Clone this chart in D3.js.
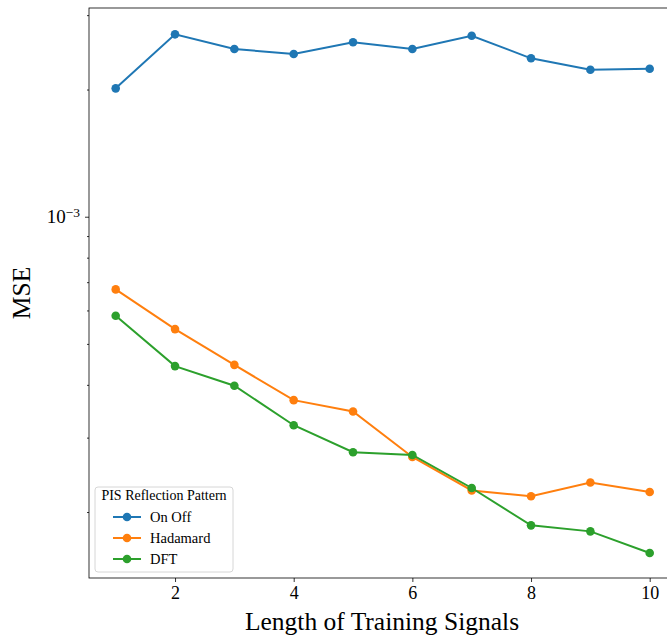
<!DOCTYPE html>
<html>
<head>
<meta charset="utf-8">
<script src="https://cdn.jsdelivr.net/npm/d3@7"></script>
<style>
  body { margin: 0; background: #fff; }
  svg text { font-family: "Liberation Serif", "DejaVu Serif", serif; fill: #000; }
</style>
</head>
<body>
<svg id="chart" width="667" height="637"></svg>
<script>
// data
var lengths = [1, 2, 3, 4, 5, 6, 7, 8, 9, 10];
var onOff    = [2.013e-3, 2.702e-3, 2.494e-3, 2.427e-3, 2.587e-3, 2.494e-3, 2.682e-3, 2.371e-3, 2.228e-3, 2.240e-3];
var hadamard = [6.73e-4, 5.42e-4, 4.46e-4, 3.68e-4, 3.46e-4, 2.70e-4, 2.25e-4, 2.18e-4, 2.35e-4, 2.23e-4];
var dft      = [5.83e-4, 4.43e-4, 3.98e-4, 3.21e-4, 2.77e-4, 2.73e-4, 2.28e-4, 1.86e-4, 1.80e-4, 1.60e-4];
var seriesNames = ['On Off', 'Hadamard', 'DFT'];
var xTicks = [2, 4, 6, 8, 10];
var yMajorTicks = [1e-3];
var yMinorTicks = [2e-4, 3e-4, 4e-4, 5e-4, 6e-4, 7e-4, 8e-4, 9e-4, 2e-3, 3e-3];

var series = [
  { name: seriesNames[0], values: onOff,    color: '#1f77b4' },
  { name: seriesNames[1], values: hadamard, color: '#ff7f0e' },
  { name: seriesNames[2], values: dft,      color: '#2ca02c' }
];

// plot box (right edge falls past the window, as in the reference)
var plotLeft = 89, plotTop = 8, plotBottom = 578, plotRight = 676.4;

var svg = d3.select('#chart');

var x = d3.scaleLinear().domain([0.55, 10.45]).range([plotLeft, plotRight]);
var y = d3.scaleLog().domain([1.396e-4, 3.119e-3]).range([plotBottom, plotTop]);

// series
var line = d3.line()
  .x(function(d, i) { return x(lengths[i]); })
  .y(function(d) { return y(d); });

series.forEach(function(s) {
  var g = svg.append('g');
  g.append('path')
    .attr('d', line(s.values))
    .attr('fill', 'none')
    .attr('stroke', s.color)
    .attr('stroke-width', 2);
  g.selectAll('circle')
    .data(s.values)
    .enter().append('circle')
    .attr('cx', function(d, i) { return x(lengths[i]); })
    .attr('cy', function(d) { return y(d); })
    .attr('r', 4.3)
    .attr('fill', s.color);
});

// axes
var xAxis = d3.axisBottom(x).tickValues(xTicks).tickSize(4).tickPadding(4)
  .tickFormat(d3.format('d'));
var gx = svg.append('g').attr('transform', 'translate(0,' + plotBottom + ')').call(xAxis);
gx.select('.domain').remove();
gx.selectAll('text').style('font-size', '18px');

var yAxis = d3.axisLeft(y).tickValues(yMajorTicks).tickSize(4).tickPadding(5)
  .tickFormat(function() { return ''; });
var gy = svg.append('g').attr('transform', 'translate(' + plotLeft + ',0)').call(yAxis);
gy.select('.domain').remove();
gy.selectAll('.tick text').each(function() {
  var t = d3.select(this).style('font-size', '19px');
  t.append('tspan').text('10');
  t.append('tspan').attr('dy', '-0.45em').style('font-size', '13.5px').text('\u22123');
});

var yMinor = d3.axisLeft(y).tickValues(yMinorTicks).tickSize(2)
  .tickFormat(function() { return ''; });
var gm = svg.append('g').attr('transform', 'translate(' + plotLeft + ',0)').call(yMinor);
gm.select('.domain').remove();

svg.selectAll('.tick line').attr('stroke', '#000').attr('stroke-width', 0.8);

// spines
svg.append('rect')
  .attr('x', plotLeft).attr('y', plotTop)
  .attr('width', plotRight - plotLeft).attr('height', plotBottom - plotTop)
  .attr('fill', 'none').attr('stroke', '#000').attr('stroke-width', 0.8);

// axis labels
svg.append('text')
  .attr('x', 382).attr('y', 630)
  .attr('text-anchor', 'middle')
  .style('font-size', '25.5px')
  .text('Length of Training Signals');

svg.append('text')
  .attr('transform', 'translate(30,' + ((plotTop + plotBottom) / 2) + ') rotate(-90)')
  .attr('text-anchor', 'middle')
  .style('font-size', '25.5px')
  .text('MSE');

// legend
var lg = svg.append('g').attr('transform', 'translate(95,487)');
lg.append('rect')
  .attr('width', 138).attr('height', 85)
  .attr('rx', 3).attr('ry', 3)
  .attr('fill', '#fff').attr('fill-opacity', 0.8)
  .attr('stroke', '#d6d6d6').attr('stroke-width', 1);
lg.append('text')
  .attr('x', 69).attr('y', 13)
  .attr('text-anchor', 'middle')
  .style('font-size', '14px')
  .text('PIS Reflection Pattern');

var items = lg.selectAll('g.item')
  .data(series)
  .enter().append('g')
  .attr('class', 'item')
  .attr('transform', function(d, i) { return 'translate(0,' + (30 + i * 21) + ')'; });
items.append('line')
  .attr('x1', 18).attr('x2', 46)
  .attr('stroke', function(d) { return d.color; })
  .attr('stroke-width', 2);
items.append('circle')
  .attr('cx', 32).attr('r', 4.3)
  .attr('fill', function(d) { return d.color; });
items.append('text')
  .attr('x', 55).attr('dy', '0.35em')
  .style('font-size', '14.5px')
  .text(function(d) { return d.name; });
</script>
</body>
</html>
